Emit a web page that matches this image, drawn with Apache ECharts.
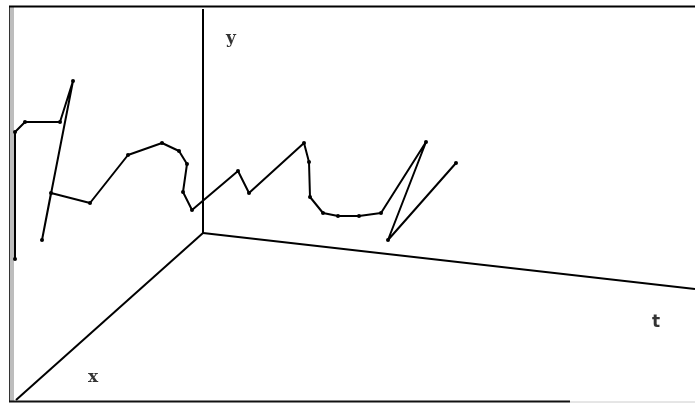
<!DOCTYPE html>
<html>
<head>
<meta charset="utf-8">
<style>
  html, body { margin: 0; padding: 0; background: #fff; }
  #chart { width: 695px; height: 404px; }
</style>
<script src="https://cdn.jsdelivr.net/npm/echarts@6/dist/echarts.min.js"></script>
</head>
<body>
<div id="chart"></div>
<script>
// Projected trajectory (screen-plane coordinates of the 3D path)
const pathU = [15, 15, 25, 60, 73, 42, 51, 90, 128, 162, 179, 187, 183, 192, 238, 249, 304, 309, 310, 323, 338, 359, 381, 426, 388, 456];
const pathV = [259, 132, 122, 122, 81, 240, 193, 203, 155, 143, 151, 164, 192, 210, 171, 193, 143, 162, 197, 213, 216, 216, 213, 142, 240, 163];

// Projected axes: origin and the far end of each axis
const axisOrigin = [203, 233];
const axisYEnd = [203, 9];
const axisTEnd = [695, 289];
const axisXEnd = [16, 400];
const axisNames = ['y', 't', 'x'];
const axisLabelAt = [[231, 39], [656, 323], [93, 378]];
const axisLabelFont = ['DejaVu Serif', 'DejaVu Sans', 'DejaVu Serif'];

const pathData = pathU.map((u, i) => [u, pathV[i]]);

const chart = echarts.init(document.getElementById('chart'), null, { renderer: 'canvas' });

const axisSeries = [axisYEnd, axisTEnd, axisXEnd].map((end) => ({
  type: 'line',
  data: [axisOrigin, end],
  symbol: 'none',
  silent: true,
  lineStyle: { color: '#000', width: 2 },
  animation: false
}));

chart.setOption({
  backgroundColor: '#fff',
  animation: false,
  grid: { left: 0, right: 0, top: 0, bottom: 0 },
  xAxis: { type: 'value', min: 0, max: 695, show: false },
  yAxis: { type: 'value', min: 0, max: 404, inverse: true, show: false },
  graphic: [
    // window frame
    { type: 'rect', shape: { x: 10, y: 6, width: 4, height: 396 }, style: { fill: '#bdbdbd' }, silent: true },
    { type: 'line', shape: { x1: 9.5, y1: 6, x2: 9.5, y2: 402 }, style: { stroke: '#333', lineWidth: 1 }, silent: true },
    { type: 'line', shape: { x1: 9, y1: 6.5, x2: 695, y2: 6.5 }, style: { stroke: '#000', lineWidth: 2 }, silent: true },
    { type: 'line', shape: { x1: 9, y1: 401.5, x2: 570, y2: 401.5 }, style: { stroke: '#111', lineWidth: 2 }, silent: true },
    { type: 'line', shape: { x1: 570, y1: 402, x2: 695, y2: 402 }, style: { stroke: '#ccc', lineWidth: 1 }, silent: true }
  ],
  series: [
    ...axisSeries,
    {
      type: 'scatter',
      data: axisLabelAt.map((p, i) => ({
        value: p,
        name: axisNames[i],
        label: { fontFamily: axisLabelFont[i] }
      })),
      symbolSize: 0,
      silent: true,
      label: {
        show: true,
        position: 'inside',
        formatter: (p) => p.name,
        color: '#000',
        fontWeight: 'bold',
        fontSize: 17
      }
    },
    {
      type: 'line',
      data: pathData,
      symbol: 'circle',
      symbolSize: 4,
      showAllSymbol: true,
      itemStyle: { color: '#000' },
      lineStyle: { color: '#000', width: 2 },
      silent: true
    }
  ]
});
</script>
</body>
</html>
